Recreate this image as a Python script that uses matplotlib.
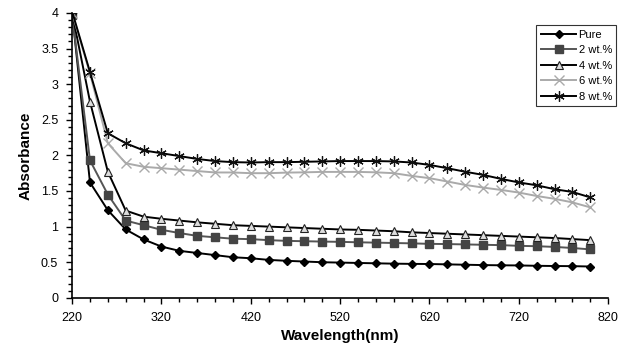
import numpy as np
import matplotlib
matplotlib.use('Agg')
import matplotlib.pyplot as plt
from matplotlib.ticker import MultipleLocator

plt.rcParams['font.family'] = ['Liberation Sans', 'DejaVu Sans']

wavelength = list(range(220, 801, 20))

pure = [4.00, 1.62, 1.23, 0.96, 0.82, 0.72, 0.66, 0.63, 0.60, 0.57,
        0.556, 0.533, 0.52, 0.51, 0.50, 0.495, 0.49, 0.485, 0.48, 0.477,
        0.475, 0.47, 0.465, 0.46, 0.457, 0.455, 0.45, 0.447, 0.445, 0.44]
wt2 = [3.97, 1.93, 1.45, 1.085, 1.02, 0.955, 0.91, 0.87, 0.85, 0.83,
       0.824, 0.81, 0.80, 0.795, 0.79, 0.786, 0.78, 0.775, 0.77, 0.765,
       0.758, 0.755, 0.75, 0.745, 0.74, 0.73, 0.725, 0.715, 0.70, 0.68]
wt4 = [4.00, 2.755, 1.77, 1.225, 1.14, 1.11, 1.085, 1.06, 1.04, 1.02,
       1.01, 1.00, 0.99, 0.98, 0.97, 0.96, 0.955, 0.945, 0.935, 0.92,
       0.91, 0.90, 0.89, 0.88, 0.87, 0.86, 0.85, 0.84, 0.825, 0.81]
wt6 = [4.00, 3.15, 2.17, 1.89, 1.84, 1.82, 1.80, 1.78, 1.76, 1.76,
       1.75, 1.75, 1.758, 1.762, 1.768, 1.768, 1.768, 1.762, 1.75, 1.712,
       1.68, 1.633, 1.585, 1.548, 1.515, 1.478, 1.43, 1.39, 1.34, 1.27]
wt8 = [4.02, 3.17, 2.31, 2.17, 2.07, 2.03, 1.99, 1.95, 1.92, 1.905,
       1.90, 1.905, 1.905, 1.91, 1.915, 1.92, 1.92, 1.92, 1.915, 1.90,
       1.866, 1.82, 1.77, 1.726, 1.67, 1.62, 1.58, 1.525, 1.486, 1.41]

x_ticks = [220, 320, 420, 520, 620, 720, 820]
y_ticks = [0, 0.5, 1, 1.5, 2, 2.5, 3, 3.5, 4]
y_labels = ['0', '0.5', '1', '1.5', '2', '2.5', '3', '3.5', '4']

fig = plt.figure(figsize=(6.27, 3.58), dpi=100)
ax = fig.add_axes([0.115, 0.168, 0.855, 0.796])

ax.plot(wavelength, pure, color='black', lw=1.4, marker='D', ms=4.2,
        mfc='black', mec='black', label='Pure')
ax.plot(wavelength, wt2, color='#555555', lw=1.4, marker='s', ms=6,
        mfc='#444444', mec='#444444', label='2 wt.%')
ax.plot(wavelength, wt4, color='black', lw=1.4, marker='^', ms=6,
        mfc='#dddddd', mec='#222222', mew=0.8, label='4 wt.%')
ax.plot(wavelength, wt6, color='#aaaaaa', lw=1.4, marker='x', ms=6.5,
        mec='#aaaaaa', mew=1.0, label='6 wt.%')
ax.plot(wavelength, wt8, color='black', lw=1.4, marker=(6, 2, 0), ms=7.5,
        mec='#111111', mew=0.9, label='8 wt.%')

ax.set_xlim(220, 820)
ax.set_ylim(0, 4)
ax.set_xticks(x_ticks)
ax.set_xticklabels([str(v) for v in x_ticks])
ax.xaxis.set_minor_locator(MultipleLocator(20))
ax.set_yticks(y_ticks)
ax.set_yticklabels(y_labels)
ax.yaxis.set_minor_locator(MultipleLocator(0.1))
ax.tick_params(which='major', direction='out', length=4, width=1, labelsize=9, pad=6)
ax.tick_params(which='minor', direction='out', length=3, width=1)
ax.spines['top'].set_visible(False)
ax.spines['right'].set_visible(False)
ax.spines['left'].set_linewidth(1.2)
ax.spines['bottom'].set_linewidth(1.2)

ax.set_xlabel('Wavelength(nm)', fontsize=11, fontweight='bold', labelpad=4)
ax.set_ylabel('Absorbance', fontsize=11, fontweight='bold', labelpad=6)

leg = fig.legend(loc='upper right', bbox_to_anchor=(0.992, 0.945), fontsize=8,
                 frameon=True, fancybox=False, edgecolor='black',
                 handlelength=3.2, borderpad=0.4, labelspacing=0.5,
                 handletextpad=0.2)
leg.get_frame().set_linewidth(0.8)

fig.savefig('out.png', dpi=100)
